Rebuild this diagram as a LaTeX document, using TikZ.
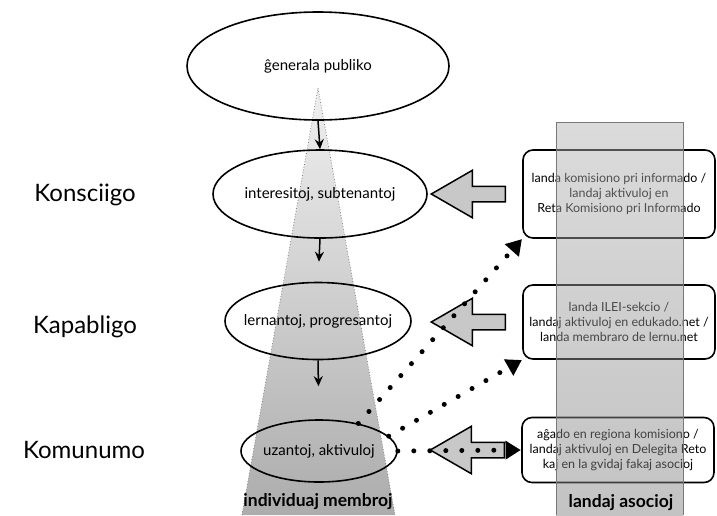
\documentclass[tikz,border=0pt]{standalone}
\usepackage{fontspec}
\setmainfont{Lato}
\usetikzlibrary{arrows.meta, positioning, shapes.geometric, shapes.arrows}
\definecolor{arrowgray}{RGB}{200,200,200}
\definecolor{bandgray}{RGB}{120,120,120}

\begin{document}
\begin{tikzpicture}[x=1pt, y=-1pt,
		oval/.style = {ellipse, draw, line width=1.6pt, inner sep=0pt, inner xsep=-24pt, font=\fontsize{15}{17}\selectfont},
		box/.style = {rectangle, rounded corners=10pt, draw, line width=1.6pt, minimum width=192pt, align=center, font=\fontsize{12.5}{15}\selectfont},
		level/.style = {font=\fontsize{24}{28}\selectfont},
		foot/.style = {font=\fontsize{17.5}{20}\selectfont\bfseries},
		push/.style = {single arrow, shape border rotate=180, draw, line width=1.5pt, fill=arrowgray, inner ysep=7pt, single arrow head extend=16pt, single arrow tip angle=60, minimum height=74pt},
		dots/.style = {line width=5pt, line cap=round, dash pattern=on 0pt off 16pt, shorten >=17pt},
		head/.style = {isosceles triangle, isosceles triangle stretches, fill=black, draw, line width=0.5pt, inner sep=0pt, minimum width=19pt, minimum height=15pt, sloped, anchor=apex},
		down/.style = {line width=1.5pt, -{Stealth[length=10pt, width=9pt]}}
		]
		\useasboundingbox (0,0) rectangle (717,515);
		
		% funnel of the members
		\shade[top color=gray!12, bottom color=gray!65] (318,88) -- (395,515) -- (242,515) -- cycle;
		\draw[gray, dotted, line width=0.8pt] (242,515) -- (318,88) -- (395,515);
		
		\node (pub) [oval, minimum width=262pt, minimum height=108pt] at (318,66) {ĝenerala publiko};
		\node (int) [oval, minimum width=214pt, minimum height=88pt] at (320,194) {interesitoj, subtenantoj};
		\node (lern) [oval, minimum width=186pt, minimum height=77pt] at (318,321) {lernantoj, progresantoj};
		\node (uz) [oval, minimum width=156pt, minimum height=62pt] at (319,451) {uzantoj, aktivuloj};
		
		\node (kon) [level] at (85,195) {Konsciigo};
		\node (kap) [level] at (85,327) {Kapabligo};
		\node (kom) [level] at (84,450) {Komunumo};
		
		\node (b1) [box, minimum height=88pt] at (619,194) {landa komisiono pri informado /\\ landaj aktivuloj en\\ Reta Komisiono pri Informado};
		\node (b2) [box, minimum height=74pt] at (619,322) {landa ILEI-sekcio /\\ landaj aktivuloj en edukado.net /\\ landa membraro de lernu.net};
		\node (b3) [box, minimum height=65pt] at (618,450) {aĝado en regiona komisiono /\\ landaj aktivuloj en Delegita Reto\\ kaj en la gvidaj fakaj asocioj};
		
		\node (p1) [push] at (475,194) {};
		\node (p2) [push] at (475,322) {};
		\node (p3) [push] at (474,450) {};
		
		% band of the associations
		\shade[top color=gray!60, bottom color=gray, opacity=0.47] (556,122) rectangle (683,515);
		\draw[bandgray, line width=1pt] (556,515) -- (556,122) -- (683,122) -- (683,515);
		
		\draw[dots] (uz.35) -- (b1.south west) node (h1) [head, pos=1] {};
		\draw[dots] (uz.12) -- (b2.south west) node (h2) [head, pos=1] {};
		\draw[dots] (uz.east) -- (b3.west) node (h3) [head, pos=1] {};
		
		\draw[down] (pub.south) -- (int.north);
		\draw[down, shorten >=20pt] (int.south) -- (lern.north);
		\draw[down, shorten >=33pt] (lern.south) -- (uz.north);
		
		\node (ind) [foot] at (318,502) {individuaj membroj};
		\node (las) [foot] at (621,503) {landaj asocioj};
	\end{tikzpicture}
\end{document}
